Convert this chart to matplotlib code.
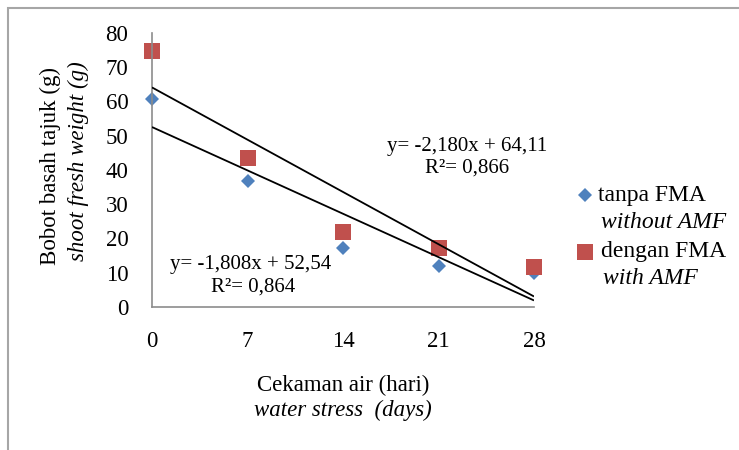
import matplotlib
matplotlib.use('Agg')
import matplotlib.pyplot as plt
from matplotlib.lines import Line2D
from matplotlib.patches import Rectangle
import numpy as np

plt.rcParams['font.family'] = ['Liberation Serif', 'DejaVu Serif']

# ---- data ----
days = [0, 7, 14, 21, 28]
tanpa_fma = [60.7, 36.8, 17.3, 12.0, 9.8]
dengan_fma = [74.8, 43.6, 22.0, 17.3, 11.8]
# trendline coefficients (slope, intercept, R^2) as shown on the chart
trend_tanpa = [-1.808, 52.54, 0.864]
trend_dengan = [-2.180, 64.11, 0.866]
yticks = [0, 10, 20, 30, 40, 50, 60, 70, 80]
series_id = ['tanpa FMA', 'dengan FMA']
series_en = ['without AMF', 'with AMF']

BLUE = '#4F81BD'
RED = '#C0504D'
W, H = 739, 450

def fx(px):
    return px / W

def fy(py):
    return 1 - py / H

def fmt(v, d):
    return f"{abs(v):.{d}f}".replace('.', ',')

def eq_text(tr):
    s, b, r2 = tr
    sign = '-' if s < 0 else ''
    return f"y= {sign}{fmt(s, 3)}x + {fmt(b, 2)}", f"R²= {fmt(r2, 3)}"

fig = plt.figure(figsize=(W / 100, H / 100), dpi=100)
ax = fig.add_axes([fx(152), fy(307), (534 - 152) / W, (307 - 33) / H])

# trendlines
xs = np.array([days[0], days[-1]], dtype=float)
for tr in (trend_tanpa, trend_dengan):
    ax.plot(xs, tr[0] * xs + tr[1], color='black', lw=1.3, zorder=3,
            solid_capstyle='butt')

ax.plot(days, tanpa_fma, linestyle='none', marker='D', ms=7.4,
        color=BLUE, mew=0, clip_on=False, zorder=2)
ax.plot(days, dengan_fma, linestyle='none', marker='s', ms=11.5,
        color=RED, mew=0, clip_on=False, zorder=2)

ax.set_xlim(0, 28)
ax.set_ylim(0, 80)
ax.set_xticks(days)
ax.set_xticklabels([str(d) for d in days])
ax.set_yticks(yticks)
ax.set_yticklabels([str(t) for t in yticks])
ax.tick_params(axis='both', length=0, labelsize=16.5, colors='black')
ax.tick_params(axis='y', pad=17)
ax.tick_params(axis='x', pad=17)
for side in ('top', 'right'):
    ax.spines[side].set_visible(False)
for side in ('left', 'bottom'):
    ax.spines[side].set_color('#8C8C8C')
    ax.spines[side].set_linewidth(1.2)

# equation labels
l1, l2 = eq_text(trend_dengan)
fig.text(fx(467), fy(147), l1, ha='center', va='center', fontsize=15)
fig.text(fx(467), fy(168), l2, ha='center', va='center', fontsize=15)
l1, l2 = eq_text(trend_tanpa)
fig.text(fx(251), fy(265), l1, ha='center', va='center', fontsize=15)
fig.text(fx(253), fy(287), l2, ha='center', va='center', fontsize=15)

# axis titles
fig.text(fx(343), fy(385), 'Cekaman air (hari)', ha='center', va='center',
         fontsize=16.5)
fig.text(fx(343), fy(410), 'water stress  (days)', ha='center', va='center',
         fontsize=16.5, style='italic')
fig.text(fx(50), fy(166), 'Bobot basah tajuk (g)', ha='center', va='center',
         fontsize=16.5, rotation=90)
fig.text(fx(78), fy(161), 'shoot fresh weight (g)', ha='center', va='center',
         fontsize=16.5, rotation=90, style='italic')

# legend (manual)
fig.add_artist(Line2D([fx(585)], [fy(195)], marker='D', ms=7.4, color=BLUE,
                      mew=0, linestyle='none'))
fig.add_artist(Line2D([fx(585)], [fy(252)], marker='s', ms=11.5, color=RED,
                      mew=0, linestyle='none'))
fig.text(fx(598), fy(195), series_id[0], ha='left', va='center', fontsize=17)
fig.text(fx(601), fy(222), series_en[0], ha='left', va='center', fontsize=17,
         style='italic')
fig.text(fx(601), fy(252), series_id[1], ha='left', va='center', fontsize=17)
fig.text(fx(603), fy(278), series_en[1], ha='left', va='center', fontsize=17,
         style='italic')

# outer frame
fig.add_artist(Rectangle((fx(8), -0.2), 1.5, fy(8) + 0.2, transform=fig.transFigure,
                         fill=False, edgecolor='#A6A6A6', lw=1.5))

fig.savefig('out.png', dpi=100)
